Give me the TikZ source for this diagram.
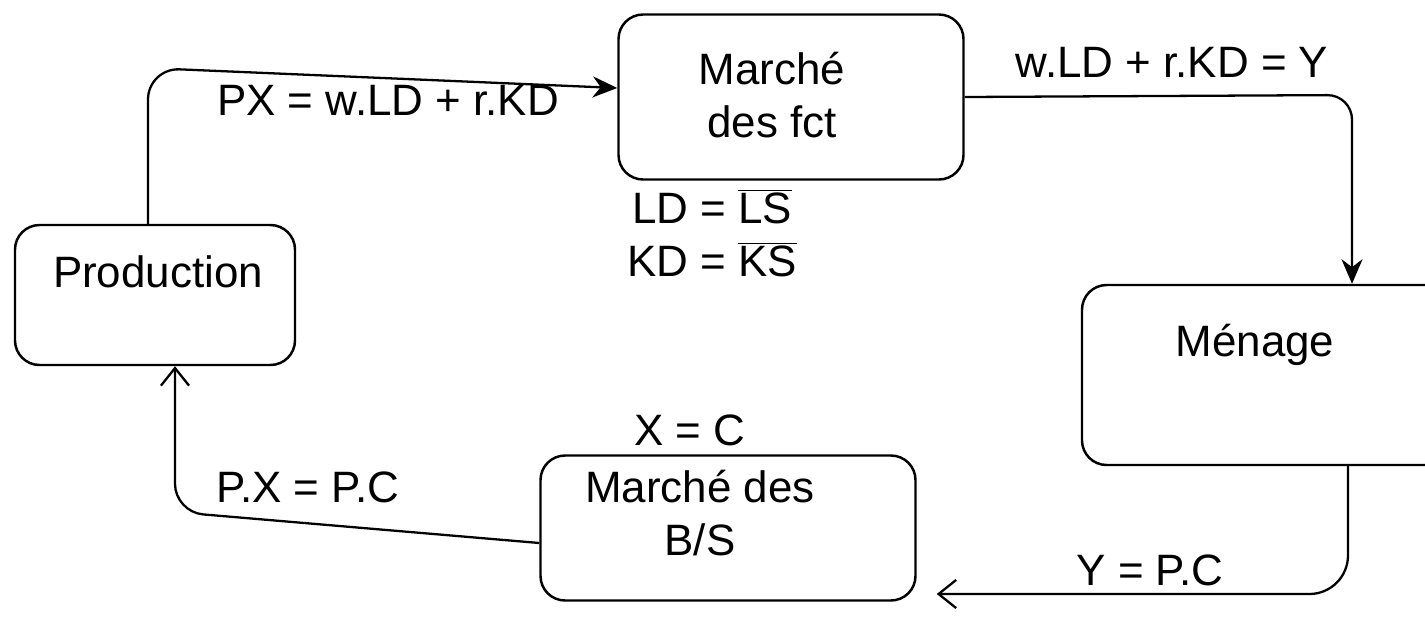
\documentclass[tikz,border=0pt]{standalone}
\usepackage{fontspec}
\setmainfont{Liberation Sans}
\usetikzlibrary{arrows.meta,calc}
\tikzset{
  box/.style={draw, line width=1.4pt, rounded corners=14pt, inner sep=0pt},
  lbl/.style={font=\fontsize{25}{30}\selectfont, inner sep=1pt},
  flow/.style={line width=1.3pt, -{Stealth[length=14pt,width=12pt]}},
  flowb/.style={line width=1.3pt, -{Straight Barb[length=10pt,width=16pt,line width=1.3pt]}},
}
\begin{document}
\begin{tikzpicture}[x=0.02cm,y=-0.02cm]
\useasboundingbox (0,0) rectangle (1425,629);
\clip (0,0) rectangle (1425,629);
% boxes
\node[box, minimum width=280*0.02cm, minimum height=140*0.02cm] (prod) at (155,295) {};
\node[box, minimum width=345*0.02cm, minimum height=165*0.02cm] (fct) at (791,97) {};
\node[box, minimum width=440*0.02cm, minimum height=180*0.02cm] (men) at (1302,375) {};
\node[box, minimum width=375*0.02cm, minimum height=145*0.02cm] (bs) at (728,528) {};
% box texts
\node[lbl] (tprod) at (158,272) {Production};
\node[lbl, align=center] (tfct) at (772,95) {Marché\\des fct};
\node[lbl] (tmen) at (1255,345) {Ménage};
\node[lbl, align=center] (tbs) at (700,513) {Marché des\\B/S};
% equilibrium texts
\node[lbl, align=center] (eqf) at (712,233) {LD = $\overline{\mbox{LS}}$\\[0pt]KD = $\overline{\mbox{KS}}$};
\node[lbl] (eqbs) at (690,430) {X = C};
% connector corners
\coordinate (c1) at (148,68);
\coordinate (c2) at (1352,95);
\coordinate (c3) at (1348,594);
\coordinate (c5) at (175,512);
% connectors
\draw[flow, rounded corners=18pt] (prod.north -| c1) -- (c1) -- ([yshift=0.18cm]fct.west);
\draw[flow, rounded corners=14pt] (fct.east) -- (c2) -- (c2 |- men.north);
\draw[flowb, rounded corners=22pt] (c3 |- men.south) -- (c3) -- ([xshift=0.4cm]bs.east |- c3);
\draw[flowb, rounded corners=16pt] ([yshift=-0.3cm]bs.west) -- (c5) -- (c5 |- prod.south);
% connector labels
\node[lbl] (l1) at (388,100) {PX = w.LD + r.KD};
\node[lbl] (l2) at (1172,62) {w.LD + r.KD = Y};
\node[lbl] (l3) at (1150,570) {Y = P.C};
\node[lbl] (l4) at (308,487) {P.X = P.C};
\end{tikzpicture}
\end{document}
